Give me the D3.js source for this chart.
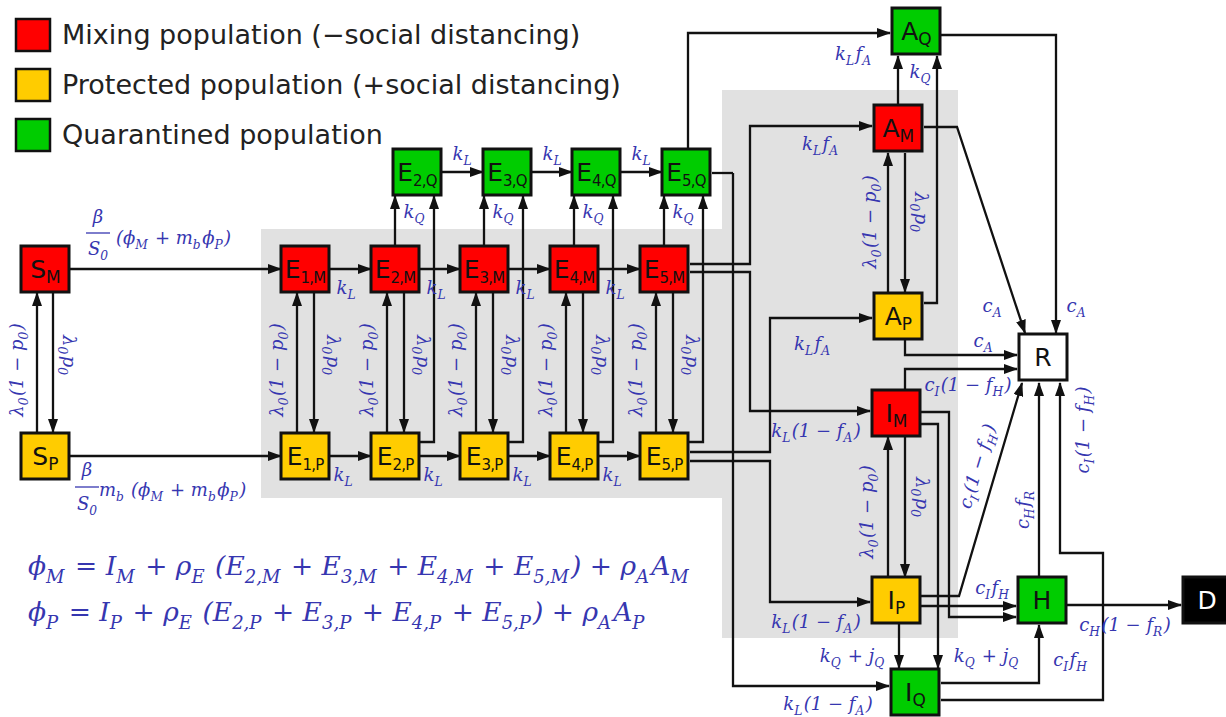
<!DOCTYPE html>
<html><head><meta charset="utf-8">
<script src="https://cdn.jsdelivr.net/npm/d3@7"></script>
<style>body{margin:0;background:#fff}svg{display:block}</style>
</head><body>
<svg id="c" width="1226" height="717"></svg>
<script>
// ---- data ----
const legendLabels = ["Mixing population (\u2212social distancing)", "Protected population (+social distancing)", "Quarantined population"];
const legendColors = ["#ff0000", "#ffcc00", "#00cc00"];
const nodeIds   = ["SM","SP","E1M","E2M","E3M","E4M","E5M","E1P","E2P","E3P","E4P","E5P","E2Q","E3Q","E4Q","E5Q","AQ","AM","AP","R","IM","IP","IQ","H","D"];
const nodeMain  = ["S","S","E","E","E","E","E","E","E","E","E","E","E","E","E","E","A","A","A","R","I","I","I","H","D"];
const nodeSub   = ["M","P","1,M","2,M","3,M","4,M","5,M","1,P","2,P","3,P","4,P","5,P","2,Q","3,Q","4,Q","5,Q","Q","M","P","","M","P","Q","",""];
const nodeGroup = ["M","P","M","M","M","M","M","P","P","P","P","P","Q","Q","Q","Q","Q","M","P","W","M","P","Q","Q","K"];
const equations = ["\u03d5_M = I_M + \u03c1_E (E_{2,M} + E_{3,M} + E_{4,M} + E_{5,M}) + \u03c1_AA_M",
                   "\u03d5_P = I_P + \u03c1_E (E_{2,P} + E_{3,P} + E_{4,P} + E_{5,P}) + \u03c1_AA_P"];
// layout (centres)
const layout = {SM:[45,269],SP:[45,456],AQ:[916,31],AM:[898,128],AP:[898,316],R:[1043,357],
  IM:[896,413],IP:[896,600],IQ:[915,692],H:[1042,600],D:[1207,600]};
const eX = [305,395,484,574,664], qX=[417,507,596,686];
eX.forEach((x,i)=>{layout["E"+(i+1)+"M"]=[x,269];layout["E"+(i+1)+"P"]=[x,456];});
qX.forEach((x,i)=>{layout["E"+(i+2)+"Q"]=[x,172];});
const fill = {M:"#ff0000",P:"#ffcc00",Q:"#00cc00",W:"#ffffff",K:"#000000"};
const BW=48, BH=46, LBL="#3636b0";

const svg = d3.select("#c");
const gp = d3.path();
gp.moveTo(261,229);gp.lineTo(722,229);gp.lineTo(722,90);gp.lineTo(958,90);gp.lineTo(958,638);
gp.lineTo(722,638);gp.lineTo(722,498);gp.lineTo(261,498);gp.closePath();
svg.append("path").attr("d",gp.toString()).attr("fill","#e1e1e1");

svg.append("defs").append("marker").attr("id","ah").attr("viewBox","0 0 14 10").attr("refX",13).attr("refY",5)
  .attr("markerWidth",14).attr("markerHeight",10).attr("markerUnits","userSpaceOnUse").attr("orient","auto")
  .append("path").attr("d","M0,0L14,5L0,10Z").attr("fill","#111");

function mathText(g,x,y,str,o={}){
  const size=o.size||18;
  const t=g.append("text").attr("x",x).attr("y",y).attr("font-family","'DejaVu Serif',serif")
    .attr("font-style","italic").attr("font-size",size).attr("fill",o.color||LBL).attr("text-anchor",o.anchor||"middle");
  if(o.rot) t.attr("transform",`rotate(${o.rot},${x},${y})`);
  let i=0, buf="", sub=false;
  const flush=(s,isSub)=>{ if(!s) return; const ts=t.append("tspan").text(s);
    if(isSub!==sub){ ts.attr("dy",isSub?size*0.3:-size*0.3); if(!isSub) ts.attr("dx",size*0.08); sub=isSub; }
    if(isSub) ts.attr("font-size",size*0.68); };
  while(i<str.length){
    if(str[i]==="_"){ flush(buf,false); buf="";
      let s; if(str[i+1]==="{"){const j=str.indexOf("}",i);s=str.slice(i+2,j);i=j+1;} else {s=str[i+1];i+=2;}
      flush(s,true);
    } else { buf+=str[i]; i++; }
  }
  flush(buf,false);
  return t;
}

const lines = svg.append("g").attr("fill","none").attr("stroke","#111").attr("stroke-width",2.3);
function arrow(pts,head=true){
  lines.append("path").attr("d",d3.line()(pts)).attr("marker-end",head?"url(#ah)":null);
}
const L = svg.append("g");

arrow([[69,269],[281,269]]); arrow([[69,456],[281,456]]);
arrow([[37,433],[37,293]]); arrow([[53,292],[53,432]]);
mathText(L,23,370,"\u03bb_0(1 \u2212 p_0)",{rot:-90}); mathText(L,63,355,"\u03bb_0p_0",{rot:90});
mathText(L,98,223,"\u03b2"); svg.append("line").attr("x1",86).attr("x2",110).attr("y1",233).attr("y2",233).attr("stroke",LBL).attr("stroke-width",1.3);
mathText(L,98,255,"S_0"); mathText(L,116,244,"(\u03d5_M + m_b\u03d5_P)",{anchor:"start"});
mathText(L,87,476,"\u03b2"); svg.append("line").attr("x1",75).attr("x2",99).attr("y1",487).attr("y2",487).attr("stroke",LBL).attr("stroke-width",1.3);
mathText(L,87,510,"S_0"); mathText(L,99,496,"m_b (\u03d5_M + m_b\u03d5_P)",{anchor:"start"});

eX.forEach((x,i)=>{
  arrow([[x-8,433],[x-8,293]]); arrow([[x+9,292],[x+9,432]]);
  mathText(L,x-22,370,"\u03bb_0(1 \u2212 p_0)",{rot:-90}); mathText(L,x+22,355,"\u03bb_0p_0",{rot:90});
  if(i<4){
    const nx=eX[i+1];
    arrow([[x+24,269],[nx-24,269]]); arrow([[x+24,456],[nx-24,456]]);
    mathText(L,x+41,294,"k_L"); mathText(L,x+38,481,"k_L");
  }
  if(i>0){
    arrow([[x,246],[x,196]]);
    arrow([[x+24,442],[x+39,442],[x+39,196]]);
    mathText(L,x+19,218,"k_Q");
  }
});
qX.forEach((x,i)=>{ if(i<3){ arrow([[x+24,172],[qX[i+1]-24,172]]); mathText(L,x+45,160,"k_L"); }});

arrow([[688,149],[688,33],[890,33]]); mathText(L,853,60,"k_Lf_A");
arrow([[733,173],[712,173]],false);
arrow([[733,173],[733,686],[889,686]]); mathText(L,828,710,"k_L(1 \u2212 f_A)");
arrow([[690,264],[750,264],[750,126],[872,126]]); mathText(L,820,150,"k_Lf_A");
arrow([[690,272],[750,272],[750,411],[870,411]]); mathText(L,816,437,"k_L(1 \u2212 f_A)");
arrow([[690,452],[770,452],[770,318],[872,318]]); mathText(L,812,350,"k_Lf_A");
arrow([[690,461],[770,461],[770,602],[870,602]]); mathText(L,816,628,"k_L(1 \u2212 f_A)");
arrow([[898,104],[898,56]]); mathText(L,920,78,"k_Q");
arrow([[924,303],[937,303],[937,56]]);
arrow([[888,292],[888,153]]); arrow([[905,153],[905,292]]);
mathText(L,876,222,"\u03bb_0(1 \u2212 p_0)",{rot:-90}); mathText(L,915,212,"\u03bb_0p_0",{rot:90});
arrow([[924,127],[957,127],[1025,333]]); mathText(L,992,312,"c_A");
arrow([[941,35],[1056,35],[1056,333]]); mathText(L,1076,312,"c_A");
arrow([[905,340],[905,355],[1017,355]]); mathText(L,983,347,"c_A");

arrow([[905,390],[905,369],[1017,369]]); mathText(L,968,391,"c_I(1 \u2212 f_H)");
arrow([[888,578],[888,437]]); arrow([[905,437],[905,577]]);
mathText(L,873,512,"\u03bb_0(1 \u2212 p_0)",{rot:-90}); mathText(L,916,497,"\u03bb_0p_0",{rot:90});
arrow([[920,412],[949,412],[949,617],[1016,617]]);
arrow([[920,424],[938,424],[938,668]]); mathText(L,986,662,"k_Q + j_Q");
arrow([[920,596],[959,596],[1022,383]]); mathText(L,983,468,"c_I(1 \u2212 f_H)",{rot:-73});
arrow([[920,606],[1016,606]]); mathText(L,992,594,"c_If_H");
arrow([[899,623],[899,668]]); mathText(L,852,662,"k_Q + j_Q");
arrow([[941,683],[1039,683],[1039,625]]); mathText(L,1070,666,"c_If_H");
arrow([[941,700],[1103,700],[1103,553],[1060,553],[1060,383]]); mathText(L,1089,430,"c_I(1 \u2212 f_H)",{rot:-90});
arrow([[1039,577],[1039,383]]); mathText(L,1029,510,"c_Hf_R",{rot:-90});
arrow([[1066,605],[1181,605]]); mathText(L,1125,631,"c_H(1 \u2212 f_R)");

const ng = svg.append("g").selectAll("g").data(nodeIds).join("g")
  .attr("transform",d=>`translate(${layout[d][0]},${layout[d][1]})`);
ng.append("rect").attr("x",-BW/2).attr("y",-BH/2).attr("width",BW).attr("height",BH)
  .attr("fill",(d,i)=>fill[nodeGroup[i]]).attr("stroke","#111").attr("stroke-width",3);
ng.append("text").attr("text-anchor","middle").attr("y",9).attr("font-family","'DejaVu Sans',sans-serif")
  .attr("font-size",25).attr("fill",(d,i)=>nodeGroup[i]==="K"?"#fff":"#111")
  .each(function(d,i){ const t=d3.select(this);
    t.append("tspan").text(nodeMain[i]);
    if(nodeSub[i]) t.append("tspan").attr("font-size",nodeSub[i].length>1?15:17).attr("dy",5).attr("letter-spacing",-0.8).text(nodeSub[i]);
  });

legendLabels.forEach((s,i)=>{
  svg.append("rect").attr("x",16).attr("y",19+i*50).attr("width",34).attr("height",32).attr("fill",legendColors[i]).attr("stroke","#111").attr("stroke-width",2.5);
  svg.append("text").attr("x",62).attr("y",44+i*50).attr("font-family","'DejaVu Sans',sans-serif").attr("font-size",27).attr("fill","#222").text(s);
});
equations.forEach((e,i)=>mathText(L,28,575+i*46,e,{size:26.5,anchor:"start"}));
</script>
</body></html>
